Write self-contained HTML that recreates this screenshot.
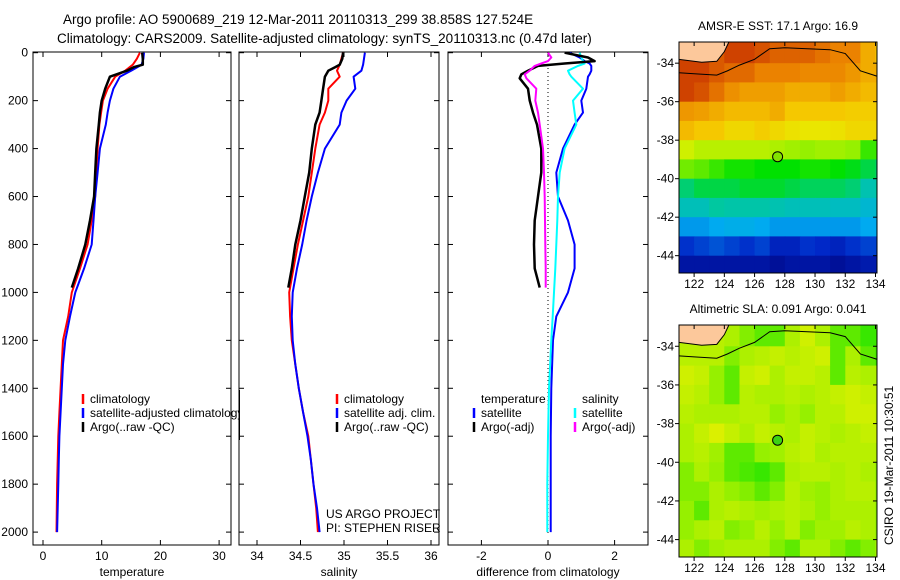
<!DOCTYPE html>
<html><head><meta charset="utf-8"><style>
body{margin:0;background:#fff}
svg{display:block;font-family:"Liberation Sans",sans-serif}
text{fill:#000}
</style></head><body>
<svg id="s" width="900" height="580" viewBox="0 0 900 580" xmlns="http://www.w3.org/2000/svg">
<text x="63" y="24" font-size="13.5">Argo profile: AO 5900689_219 12-Mar-2011 20110313_299 38.858S 127.524E</text>
<text x="57" y="43" font-size="13.5">Climatology: CARS2009. Satellite-adjusted climatology: synTS_20110313.nc (0.47d later)</text>
<g id="g"></g>
</svg>
<script>
// ---------- profile data ----------
const depths=[0,25,50,75,100,150,200,250,300,400,500,600,700,800,900,1000,1100,1200,1300,1400,1500,1600,1700,1800,1900,2000];
const tempClim=[16.5,16.0,15.3,14.0,12.3,11.0,10.2,9.9,9.6,9.3,9.1,8.9,8.3,7.6,6.3,4.9,4.3,3.4,3.2,3.0,2.8,2.6,2.5,2.4,2.35,2.3];
const tempSat=[17.2,17.1,16.8,15.0,13.1,12.0,11.4,11.0,10.7,9.7,9.3,8.9,8.6,8.3,7.0,5.5,4.6,3.8,3.4,3.2,3.0,2.8,2.7,2.6,2.5,2.4];
const argoDepths=[0,25,50,60,75,100,150,200,250,300,400,500,600,700,800,900,980];
const tempArgo=[16.9,17.0,17.0,15.5,14.3,11.4,10.6,10.0,9.7,9.5,9.1,8.9,8.7,8.0,7.2,6.0,4.9];
const salClim=[34.99,34.97,34.95,34.92,34.95,34.82,34.82,34.78,34.72,34.67,34.63,34.59,34.53,34.47,34.42,34.37,34.38,34.40,34.44,34.48,34.53,34.59,34.62,34.65,34.68,34.70];
const salSat=[35.24,35.23,35.22,35.20,35.11,35.13,35.03,34.97,34.95,34.78,34.70,34.63,34.57,34.52,34.46,34.41,34.40,34.41,34.44,34.48,34.53,34.58,34.62,34.65,34.69,34.72];
const salArgo=[34.99,34.98,34.95,34.90,34.82,34.78,34.76,34.74,34.72,34.67,34.63,34.60,34.55,34.50,34.44,34.40,34.36];
const diffDepths=[0,20,35,45,55,75,90,100,150,200,250,300,400,500,600,700,800,900,1000,1100,1200,1400,1600,1800,2000];
const dTempSat=[0.65,0.95,1.1,1.25,1.3,1.3,1.25,1.2,1.15,1.0,1.05,0.8,0.45,0.25,0.3,0.6,0.8,0.8,0.6,0.25,0.15,0.1,0.08,0.08,0.08];
const dSalSat=[0.95,1.0,1.05,1.1,0.9,0.6,0.65,0.7,1.05,0.75,0.8,0.85,0.5,0.35,0.3,0.28,0.25,0.22,0.18,0.14,0.1,0.03,0.0,-0.02,-0.02];
const dTempArgoDepths=[0,20,35,45,55,75,90,107,150,200,250,300,400,500,600,700,800,900,980];
const dTempArgo=[0.5,1.2,1.4,0.5,-0.3,-0.6,-0.8,-0.85,-0.6,-0.55,-0.45,-0.33,-0.2,-0.2,-0.3,-0.4,-0.42,-0.4,-0.25];
const dSalArgo=[0.0,0.1,0.0,-0.2,-0.4,-0.55,-0.7,-0.65,-0.35,-0.38,-0.3,-0.25,-0.15,-0.12,-0.1,-0.09,-0.08,-0.07,-0.07];
// ---------- map data (jet index 0..1, rows lat -33..-44, cols lon 121..134; -1 = land) ----------
const mapLons=[121,122,123,124,125,126,127,128,129,130,131,132,133,134];
const mapLats=[-33,-34,-35,-36,-37,-38,-39,-40,-41,-42,-43,-44];
const sstGrid=[
[-1,-1,-1,0.88,0.88,0.86,0.84,0.84,0.84,0.82,0.8,0.8,0.74,0.7],
[0.88,0.88,0.85,0.83,0.83,0.8,0.8,0.8,0.79,0.79,0.79,0.77,0.74,0.74],
[0.88,0.86,0.82,0.78,0.76,0.76,0.76,0.74,0.74,0.74,0.76,0.74,0.72,0.72],
[0.77,0.76,0.74,0.72,0.72,0.72,0.74,0.7,0.7,0.7,0.7,0.69,0.69,0.69],
[0.72,0.7,0.7,0.67,0.67,0.69,0.67,0.65,0.64,0.64,0.65,0.67,0.67,0.67],
[0.6,0.58,0.58,0.58,0.58,0.58,0.57,0.56,0.55,0.56,0.56,0.55,0.5,0.5],
[0.53,0.52,0.5,0.48,0.48,0.47,0.47,0.47,0.48,0.48,0.47,0.46,0.44,0.42],
[0.42,0.44,0.44,0.44,0.45,0.45,0.45,0.44,0.43,0.43,0.43,0.42,0.38,0.4],
[0.37,0.37,0.4,0.39,0.39,0.39,0.38,0.37,0.37,0.37,0.36,0.36,0.34,0.35],
[0.28,0.28,0.3,0.31,0.31,0.3,0.28,0.28,0.28,0.28,0.28,0.28,0.3,0.3],
[0.16,0.18,0.2,0.18,0.16,0.18,0.13,0.13,0.16,0.15,0.13,0.16,0.18,0.18],
[0.08,0.08,0.08,0.08,0.08,0.08,0.06,0.08,0.08,0.08,0.06,0.08,0.1,0.1]];
const slaGrid=[
[-1,-1,-1,0.57,0.54,0.52,0.52,0.57,0.6,0.57,0.52,0.52,0.5,0.5],
[0.58,0.58,0.58,0.54,0.57,0.58,0.59,0.58,0.59,0.6,0.52,0.57,0.52,0.5],
[0.6,0.59,0.55,0.52,0.59,0.6,0.57,0.59,0.59,0.58,0.52,0.58,0.57,0.57],
[0.59,0.58,0.55,0.52,0.58,0.57,0.57,0.58,0.57,0.58,0.59,0.6,0.59,0.58],
[0.58,0.57,0.57,0.57,0.58,0.58,0.55,0.57,0.55,0.58,0.58,0.6,0.6,0.58],
[0.57,0.59,0.61,0.59,0.57,0.59,0.58,0.57,0.59,0.58,0.57,0.58,0.59,0.59],
[0.57,0.58,0.56,0.52,0.52,0.55,0.56,0.58,0.59,0.57,0.58,0.58,0.58,0.57],
[0.54,0.57,0.55,0.52,0.51,0.5,0.52,0.57,0.58,0.58,0.57,0.58,0.57,0.54],
[0.54,0.54,0.57,0.55,0.54,0.52,0.54,0.58,0.56,0.55,0.57,0.58,0.58,0.54],
[0.55,0.52,0.57,0.58,0.57,0.56,0.57,0.58,0.57,0.55,0.57,0.57,0.57,0.54],
[0.55,0.57,0.58,0.54,0.55,0.58,0.55,0.58,0.54,0.56,0.56,0.58,0.57,0.54],
[0.57,0.54,0.56,0.57,0.57,0.57,0.54,0.52,0.57,0.57,0.54,0.52,0.54,0.57]];
const coastLon=[121,122,123.5,124.2,125,126,127,128,131,132,133,134.2];
const coastLat=[-34.5,-34.55,-34.62,-34.4,-34.1,-33.8,-33.25,-33.2,-33.3,-33.5,-34.4,-34.7];
const argoLon=127.524, argoLat=-38.858;

const NS='http://www.w3.org/2000/svg';
const G=document.getElementById('g');
function mk(t,a,p){const e=document.createElementNS(NS,t);for(const k in a)e.setAttribute(k,a[k]);(p||G).appendChild(e);return e;}
const yD=d=>52.7+d*0.2397;
function frame(x0,x1,y0,y1,name){
  const r=mk('rect',{x:x0,y:y0,width:x1-x0,height:y1-y0,fill:'none',stroke:'#000','stroke-width':1});
  
  
}
function txt(x,y,s,anchor,size,name){
  const t=mk('text',{x:x,y:y,'font-size':size||12,'text-anchor':anchor||'start'});t.textContent=s;
  
  
  return t;
}
function line(x1,y1,x2,y2,c,w,name){
  const l=mk('line',{x1:x1,y1:y1,x2:x2,y2:y2,stroke:c||'#000','stroke-width':w||1});
  
  
  return l;
}
function poly(xs,ds,xf,c,w,name){
  const pts=xs.map((v,i)=>xf(v).toFixed(1)+','+yD(ds[i]).toFixed(1)).join(' ');
  const p=mk('polyline',{points:pts,fill:'none',stroke:c,'stroke-width':w,'stroke-linejoin':'round'});
  
  
}
const PT=545, depthTicks=[0,200,400,600,800,1000,1200,1400,1600,1800,2000];
function panel(x0,x1,xf,xt,xlabs,xlabel,name){
  frame(x0,x1,52,PT,name+'-frame');
  depthTicks.forEach(d=>{line(x0,yD(d),x0+5,yD(d));line(x1,yD(d),x1-5,yD(d));});
  xt.forEach((v,i)=>{const x=xf(v);line(x,52,x,57);line(x,PT,x,PT-5);txt(x,560,xlabs[i],'middle',12,name+'-x-tick-label');});
  txt((x0+x1)/2,576,xlabel,'middle',12,name+'-x-axis-title');
}
// temperature panel
const xT=v=>43+v*5.87;
panel(33,231,xT,[0,10,20,30],['0','10','20','30'],'temperature','temperature-panel');
depthTicks.forEach(d=>txt(28,yD(d)+4,String(d),'end',12,'depth-tick-label'));
poly(tempClim,depths,xT,'#f00',2,'temp-climatology-line');
poly(tempSat,depths,xT,'#00f',2,'temp-satellite-line');
poly(tempArgo,argoDepths,xT,'#000',2.5,'temp-argo-line');
// salinity panel
const xS=v=>257+(v-34)*87;
panel(239,439,xS,[34,34.5,35,35.5,36],['34','34.5','35','35.5','36'],'salinity','salinity-panel');
poly(salClim,depths,xS,'#f00',2,'sal-climatology-line');
poly(salSat,depths,xS,'#00f',2,'sal-satellite-line');
poly(salArgo,argoDepths,xS,'#000',2.5,'sal-argo-line');
// diff panel
const xDf=v=>548+v*33.3;
panel(448,648,xDf,[-2,0,2],['-2','0','2'],'difference from climatology','difference-panel');
const zl=mk('line',{x1:xDf(0),y1:52,x2:xDf(0),y2:PT-10,stroke:'#000','stroke-width':1,'stroke-dasharray':'1,3'});


poly(dTempSat,diffDepths,xDf,'#00f',2,'diff-temp-satellite-line');
poly(dSalSat,diffDepths,xDf,'#0ff',2,'diff-sal-satellite-line');
poly(dTempArgo,dTempArgoDepths,xDf,'#000',2.5,'diff-temp-argo-line');
poly(dSalArgo,dTempArgoDepths,xDf,'#f0f',2,'diff-sal-argo-line');
// legends
function leg(x,y,c,s,name){line(x,y-9,x,y+1,c,2.5,name+'-swatch');txt(x+7,y,s,'start',12,name);}
leg(83,403,'#f00','climatology','legend-climatology');
leg(83,417,'#00f','satellite-adjusted climatology','legend-satellite-adjusted');
leg(83,431,'#000','Argo(..raw -QC)','legend-argo');
const cover=mk('rect',{x:239.5,y:395,width:8,height:40,fill:'#fff'});


line(239.5,390,239.5,440,'#000',1,'salinity-panel-left-edge');
leg(337,403,'#f00','climatology','legend2-climatology');
leg(337,417,'#00f','satellite adj. clim.','legend2-satellite');
leg(337,431,'#000','Argo(..raw -QC)','legend2-argo');
txt(481,403,'temperature','start',12,'legend3-temperature-heading');
txt(582,403,'salinity','start',12,'legend3-salinity-heading');
leg(474,417,'#00f','satellite','legend3-temp-satellite');
leg(474,431,'#000','Argo(-adj)','legend3-temp-argo');
leg(575,417,'#0ff','satellite','legend3-sal-satellite');
leg(575,431,'#f0f','Argo(-adj)','legend3-sal-argo');
txt(326,518,'US ARGO PROJECT','start',12,'credit-project');
txt(326,532,'PI: STEPHEN RISER','start',12,'credit-pi');
// colormap
const stops=[[0,[0,0,120]],[0.15,[0,40,200]],[0.3,[0,170,240]],[0.4,[0,200,160]],[0.47,[0,225,0]],[0.55,[150,240,0]],[0.62,[230,240,0]],[0.7,[245,200,0]],[0.8,[235,130,0]],[0.9,[200,50,0]],[1,[160,0,0]]];
function cmap(v){for(let i=1;i<stops.length;i++){if(v<=stops[i][0]){const a=stops[i-1],b=stops[i],t=(v-a[0])/(b[0]-a[0]);return 'rgb('+a[1].map((c,k)=>Math.round(c+(b[1][k]-c)*t)).join(',')+')';}}return 'rgb(160,0,0)';}
function map(y0,y1,grid,circleFill,name,title){
  const x0=679,x1=877,lon0=121,lon1=134.1,latT=-32.9,latB=-44.9;
  const X=l=>x0+(l-lon0)/(lon1-lon0)*(x1-x0), Y=l=>y0+(latT-l)/(latT-latB)*(y1-y0);
  const cid=name+'-clip';
  const cp=mk('clipPath',{id:cid});mk('rect',{x:x0,y:y0,width:x1-x0,height:y1-y0},cp);
  const g=mk('g',{'clip-path':'url(#'+cid+')'});
  
  
  grid.forEach((row,j)=>row.forEach((v,i)=>{
    const yt=Y(mapLats[j]+ (j===0?0.2:0)), yb=Y(mapLats[j]-1);
    const r=mk('rect',{x:X(mapLons[i]).toFixed(1),y:yt.toFixed(1),width:(X(mapLons[i]+1)-X(mapLons[i])+0.5).toFixed(1),height:(yb-yt+0.5).toFixed(1),fill:v<0?cmap(grid[j+1][i]):cmap(v)},g);
    
    
  }));
  const land=mk('polygon',{points:[[121,-32.9],[124.3,-32.9],[124,-33.4],[123.5,-33.9],[122.5,-33.95],[121,-33.8]].map(p=>X(p[0])+','+Y(p[1])).join(' '),fill:'#fcc89b'},g);
  
  
  const cl=mk('polyline',{points:coastLon.map((l,i)=>X(l)+','+Y(coastLat[i])).join(' '),fill:'none',stroke:'#000','stroke-width':1},g);
  
  
  const cl2=mk('polyline',{points:[[121,-33.8],[122.5,-33.95],[123.5,-33.9],[124,-33.4],[124.3,-32.9]].map(p=>X(p[0])+','+Y(p[1])).join(' '),fill:'none',stroke:'#000','stroke-width':1},g);
  
  
  const c=mk('circle',{cx:X(argoLon),cy:Y(argoLat),r:5,fill:circleFill,stroke:'#000','stroke-width':1});
  
  
  frame(x0,x1,y0,y1,name+'-frame');
  [-34,-36,-38,-40,-42,-44].forEach(l=>{line(x0,Y(l),x0-4,Y(l));line(x1,Y(l),x1-4,Y(l));txt(x0-5,Y(l)+4,String(l),'end',12,name+'-lat-label');});
  [122,124,126,128,130,132,134].forEach(l=>{line(X(l),y0,X(l),y0+4);line(X(l),y1,X(l),y1+4);txt(X(l),y1+15,String(l),'middle',12,name+'-lon-label');});
  txt((x0+x1)/2,y0-12,title,'middle',12,name+'-title');
}
map(42,273,sstGrid,'rgb(130,225,0)','sst-map','AMSR-E SST: 17.1 Argo: 16.9');
map(325,557,slaGrid,'rgb(60,210,20)','sla-map','Altimetric SLA: 0.091 Argo: 0.041');
const ts=txt(0,0,'CSIRO 19-Mar-2011 10:30:51','start',12,'timestamp');
ts.setAttribute('transform','translate(893,545) rotate(-90)');
</script>
</body></html>
